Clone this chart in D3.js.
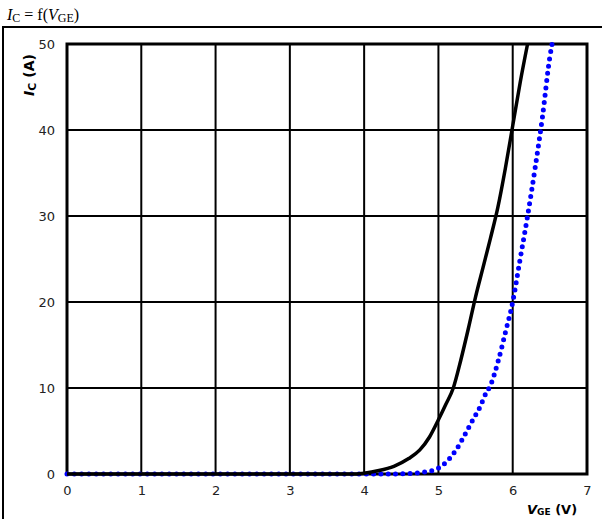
<!DOCTYPE html>
<html>
<head>
<meta charset="utf-8">
<script src="https://cdn.jsdelivr.net/npm/d3@7"></script>
<style>
    body { margin: 0; background: #fff; }
    svg { display: block; }
</style>
</head>
<body>
<svg id="chart"></svg>
<script>
// tick values
const xTicks = [0, 1, 2, 3, 4, 5, 6, 7];
const yTicks = [0, 10, 20, 30, 40, 50];

// solid black curve, [VGE, IC]
const curveSolid = [
    [0, 0], [3.8, 0], [4.0, 0.1], [4.2, 0.4], [4.4, 0.9], [4.6, 1.8], [4.75, 2.8],
    [4.88, 4.3], [5.0, 6.3], [5.1, 8.1], [5.2, 10], [5.3, 13.2], [5.4, 16.8],
    [5.5, 20.6], [5.6, 24], [5.7, 27.4], [5.8, 31], [5.9, 35.5], [6.0, 40.5],
    [6.1, 45.5], [6.2, 50]
];

// dotted blue curve, [VGE, IC]
const curveDotted = [
    [0, 0], [4.4, 0], [4.6, 0.05], [4.8, 0.2], [5.0, 0.7], [5.13, 1.6],
    [5.26, 3.1], [5.37, 4.8], [5.47, 6.4], [5.56, 7.8], [5.64, 9.4], [5.7, 10.3],
    [5.8, 13], [5.9, 16.4], [6.0, 20], [6.1, 25], [6.2, 30], [6.3, 35.5],
    [6.4, 41.5], [6.5, 48.5], [6.53, 50]
];

const width = 602, height = 519;
const margin = {top: 44, right: 15, bottom: 45, left: 67};
const w = width - margin.left - margin.right;
const h = height - margin.top - margin.bottom;

const svg = d3.select("#chart").attr("width", width).attr("height", height);

// outer frame
svg.append("rect")
    .attr("x", 3).attr("y", 27)
    .attr("width", width + 10).attr("height", height)
    .attr("fill", "none").attr("stroke", "#000").attr("stroke-width", 2);

svg.append("text")
    .attr("x", 7).attr("y", 20)
    .attr("font-family", "Liberation Serif, serif")
    .attr("font-size", 16)
    .html('<tspan font-style="italic">I</tspan><tspan font-size="12" dy="2">C</tspan><tspan dy="-2"> = f(</tspan><tspan font-style="italic">V</tspan><tspan font-size="12" dy="2">GE</tspan><tspan dy="-2">)</tspan>');

const g = svg.append("g").attr("transform", `translate(${margin.left},${margin.top})`);

const x = d3.scaleLinear().domain([0, 7]).range([0, w]);
const y = d3.scaleLinear().domain([0, 50]).range([h, 0]);

// grid
g.selectAll(".vgrid").data(xTicks).join("line")
    .attr("x1", d => x(d)).attr("x2", d => x(d))
    .attr("y1", 0).attr("y2", h)
    .attr("stroke", "#000").attr("stroke-width", 2);
g.selectAll(".hgrid").data(yTicks).join("line")
    .attr("x1", 0).attr("x2", w)
    .attr("y1", d => y(d)).attr("y2", d => y(d))
    .attr("stroke", "#000").attr("stroke-width", 2);
g.append("rect").attr("width", w).attr("height", h)
    .attr("fill", "none").attr("stroke", "#000").attr("stroke-width", 3);

// axes labels
const xAxis = g.append("g").attr("transform", `translate(0,${h})`)
    .call(d3.axisBottom(x).tickValues(xTicks).tickSize(0).tickPadding(12).tickFormat(d3.format("d")));
const yAxis = g.append("g")
    .call(d3.axisLeft(y).tickValues(yTicks).tickSize(0).tickPadding(12).tickFormat(d3.format("d")));
[xAxis, yAxis].forEach(a => {
    a.select(".domain").remove();
    a.selectAll("text").attr("font-family", "DejaVu Sans, Verdana, sans-serif")
        .attr("font-size", 13).attr("fill", "#222");
});

const line = d3.line().x(d => x(d[0])).y(d => y(d[1])).curve(d3.curveMonotoneX);

g.append("path").datum(curveDotted)
    .attr("d", line)
    .attr("fill", "none").attr("stroke", "#0000ff")
    .attr("stroke-width", 5).attr("stroke-linecap", "round")
    .attr("stroke-dasharray", "0 7.3");

g.append("path").datum(curveSolid)
    .attr("d", line)
    .attr("fill", "none").attr("stroke", "#000")
    .attr("stroke-width", 3.5);

// axis titles
svg.append("text")
    .attr("transform", "translate(34,75) rotate(-90)")
    .attr("text-anchor", "middle")
    .attr("font-family", "DejaVu Sans, Verdana, sans-serif")
    .attr("font-weight", "bold").attr("font-size", 14)
    .html('<tspan font-style="italic">I</tspan><tspan font-size="11" dy="2">C</tspan><tspan dy="-2"> (A)</tspan>');

svg.append("text")
    .attr("x", 527).attr("y", 514)
    .attr("font-family", "DejaVu Sans, Verdana, sans-serif")
    .attr("font-weight", "bold").attr("font-size", 13)
    .html('<tspan font-style="italic">V</tspan><tspan font-size="9" dy="1">GE</tspan><tspan dy="-1"> (V)</tspan>');
</script>
</body>
</html>
